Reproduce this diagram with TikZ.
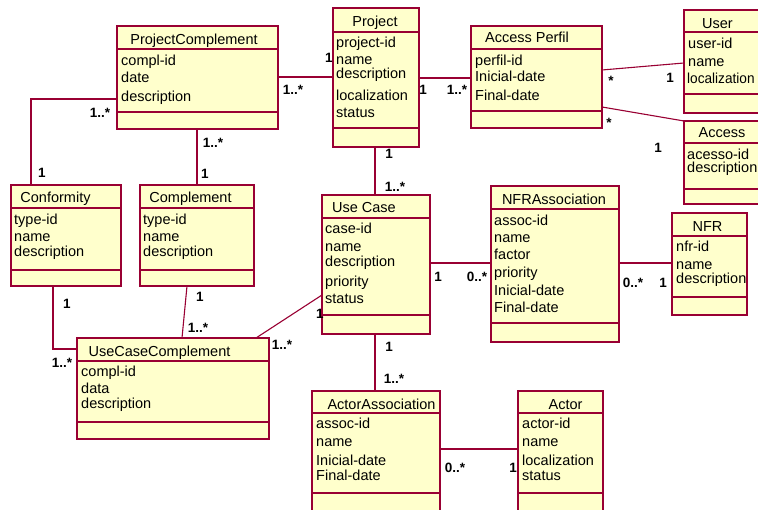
\documentclass[tikz,border=0pt]{standalone}
\usepackage{fontspec}
\setmainfont{Liberation Sans}
\definecolor{umlred}{HTML}{990033}
\definecolor{umlfill}{HTML}{FFFFCC}
\begin{document}
\begin{tikzpicture}[x=1pt,y=-1pt,
  cls/.style={draw=umlred, fill=umlfill, line width=1.6pt, inner sep=0pt, outer sep=0pt, anchor=north west},
  sepline/.style={draw=umlred, line width=1.1pt},
  conn/.style={draw=umlred, line width=1.1pt},
  ttl/.style={anchor=base, inner sep=0pt, font=\fontsize{14.5}{17}\selectfont},
  attr/.style={anchor=base west, inner sep=0pt, font=\fontsize{14.5}{17}\selectfont},
  mult/.style={anchor=center, inner sep=0pt, font=\fontsize{13.5}{16}\selectfont\bfseries}]
\useasboundingbox (0,0) rectangle (758,510);
\clip (0,0) rectangle (758,510);
\fill[white] (0,0) rectangle (758,510);

% ---------- classes ----------
\node[cls, minimum width=161pt, minimum height=103pt] (pc) at (117,26) {};
\node[cls, minimum width=86pt, minimum height=139pt] (prj) at (333,8) {};
\node[cls, minimum width=131pt, minimum height=102pt] (ap) at (471,26) {};
\node[cls, minimum width=90pt, minimum height=103pt] (usr) at (684,10) {};
\node[cls, minimum width=90pt, minimum height=83pt] (acc) at (684,121) {};
\node[cls, minimum width=110pt, minimum height=101pt] (conf) at (11,185) {};
\node[cls, minimum width=114pt, minimum height=101pt] (comp) at (140,185) {};
\node[cls, minimum width=108pt, minimum height=139pt] (uc) at (322,195) {};
\node[cls, minimum width=128pt, minimum height=156pt] (nfra) at (491,186) {};
\node[cls, minimum width=75pt, minimum height=102pt] (nfr) at (672,213) {};
\node[cls, minimum width=192pt, minimum height=101pt] (ucc) at (77,338) {};
\node[cls, minimum width=128pt, minimum height=130pt] (aa) at (312,391) {};
\node[cls, minimum width=85pt, minimum height=130pt] (act) at (518,391) {};

% ---------- compartment separators ----------
\foreach \n/\a/\b in {pc/49/112, prj/32/128, ap/49/111, usr/32/94, acc/143/189,
  conf/208/270, comp/208/270, uc/218/315, nfra/209/323, nfr/236/297,
  ucc/361/422, aa/413/493, act/413/493}{
  \draw[sepline] (\n.west |- 0,\a) -- (\n.east |- 0,\a);
  \draw[sepline] (\n.west |- 0,\b) -- (\n.east |- 0,\b);
}

% ---------- titles ----------
\node[ttl] (tpc) at (194,45) {ProjectComplement};
\node[ttl] (tprj) at (375,27) {Project};
\node[ttl] (tap) at (527,43) {Access Perfil};
\node[ttl] (tusr) at (717.5,29) {User};
\node[ttl] (tacc) at (722,138) {Access};
\node[ttl] (tconf) at (55.5,203) {Conformity};
\node[ttl] (tcomp) at (190.5,203) {Complement};
\node[ttl] (tuc) at (364,213) {Use Case};
\node[ttl] (tnfra) at (554,205) {NFRAssociation};
\node[ttl] (tnfr) at (707.5,232) {NFR};
\node[ttl] (tucc) at (159.5,357) {UseCaseComplement};
\node[ttl] (taa) at (381.5,410) {ActorAssociation};
\node[ttl] (tact) at (565.5,410) {Actor};

% ---------- attributes ----------
\node[attr] (pc1) at (121,66) {compl-id};
\node[attr] (pc2) at (121,83) {date};
\node[attr] (pc3) at (121,102) {description};

\node[attr] (prj1) at (336,48) {project-id};
\node[attr] (prj2) at (336,65) {name};
\node[attr] (prj3) at (336,79) {description};
\node[attr] (prj4) at (336,101) {localization};
\node[attr] (prj5) at (336,118) {status};

\node[attr] (ap1) at (475,66) {perfil-id};
\node[attr] (ap2) at (475,82) {Inicial-date};
\node[attr] (ap3) at (475,101) {Final-date};

\node[attr] (usr1) at (688,49) {user-id};
\node[attr] (usr2) at (688,67) {name};
\node[attr, xscale=0.94] (usr3) at (687,84) {localization};

\node[attr] (acc1) at (687,160) {acesso-id};
\node[attr] (acc2) at (687,173) {description};

\node[attr] (conf1) at (14,225) {type-id};
\node[attr] (conf2) at (14,242) {name};
\node[attr] (conf3) at (14,257) {description};

\node[attr] (comp1) at (143,225) {type-id};
\node[attr] (comp2) at (143,242) {name};
\node[attr] (comp3) at (143,257) {description};

\node[attr] (uc1) at (325,234) {case-id};
\node[attr] (uc2) at (325,252) {name};
\node[attr] (uc3) at (325,267) {description};
\node[attr] (uc4) at (325,287) {priority};
\node[attr] (uc5) at (325,304) {status};

\node[attr] (nfra1) at (494,226) {assoc-id};
\node[attr] (nfra2) at (494,243) {name};
\node[attr] (nfra3) at (494,260) {factor};
\node[attr] (nfra4) at (494,278) {priority};
\node[attr] (nfra5) at (494,296) {Inicial-date};
\node[attr] (nfra6) at (494,313) {Final-date};

\node[attr] (nfr1) at (676,252) {nfr-id};
\node[attr] (nfr2) at (676,270) {name};
\node[attr] (nfr3) at (676,284) {description};

\node[attr] (ucc1) at (81,377) {compl-id};
\node[attr] (ucc2) at (81,394) {data};
\node[attr] (ucc3) at (81,409) {description};

\node[attr] (aa1) at (316,429) {assoc-id};
\node[attr] (aa2) at (316,447) {name};
\node[attr] (aa3) at (316,465) {Inicial-date};
\node[attr] (aa4) at (316,481) {Final-date};

\node[attr] (act1) at (522,429) {actor-id};
\node[attr] (act2) at (522,447) {name};
\node[attr] (act3) at (522,465) {localization};
\node[attr] (act4) at (522,481) {status};

% ---------- connectors ----------
\draw[conn] (pc.east |- 0,77) -- (prj.west |- 0,77);
\draw[conn] (prj.east |- 0,78) -- (ap.west |- 0,78);
\draw[conn] (ap.east |- 0,70) -- (usr.west |- 0,63);
\draw[conn] (ap.east |- 0,107) -- (acc.north west);
\draw[conn] (pc.west |- 0,99) -| (conf.north -| 31,0);
\draw[conn] (pc.south -| 197,0) -- (comp.north -| 197,0);
\draw[conn] (prj.south -| 375,0) -- (uc.north -| 375,0);
\draw[conn] (conf.south -| 53,0) |- (ucc.west |- 0,349);
\draw[conn] (comp.south -| 187,0) -- (ucc.north -| 182,0);
\draw[conn] (uc.west |- 0,295) -- (ucc.north -| 256,0);
\draw[conn] (uc.east |- 0,263) -- (nfra.west |- 0,263);
\draw[conn] (nfra.east |- 0,263) -- (nfr.west |- 0,263);
\draw[conn] (uc.south -| 375,0) -- (aa.north -| 375,0);
\draw[conn] (aa.east |- 0,449) -- (act.west |- 0,449);

% ---------- multiplicities ----------
\node[mult] (m1) at (293,90) {1..*};
\node[mult] (m2) at (329,58) {1};
\node[mult] (m3) at (423,90) {1};
\node[mult] (m4) at (457,90) {1..*};
\node[mult] (m5) at (611,81) {*};
\node[mult] (m6) at (670,78) {1};
\node[mult] (m7) at (609,123) {*};
\node[mult] (m8) at (658,148) {1};
\node[mult] (m9) at (100,113) {1..*};
\node[mult] (m10) at (42,173) {1};
\node[mult] (m11) at (213,143) {1..*};
\node[mult] (m12) at (205,174) {1};
\node[mult] (m13) at (389,154) {1};
\node[mult] (m14) at (395,187) {1..*};
\node[mult] (m15) at (67,304) {1};
\node[mult] (m16) at (62,363) {1..*};
\node[mult] (m17) at (200,297) {1};
\node[mult] (m18) at (198,328) {1..*};
\node[mult] (m19) at (320,314) {1};
\node[mult] (m20) at (282,345) {1..*};
\node[mult] (m21) at (438,277) {1};
\node[mult] (m22) at (477,277) {0..*};
\node[mult] (m23) at (633,283) {0..*};
\node[mult] (m24) at (663,283) {1};
\node[mult] (m25) at (389,347) {1};
\node[mult] (m26) at (394,379) {1..*};
\node[mult] (m27) at (455,468) {0..*};
\node[mult] (m28) at (513,468) {1};
\end{tikzpicture}
\end{document}
